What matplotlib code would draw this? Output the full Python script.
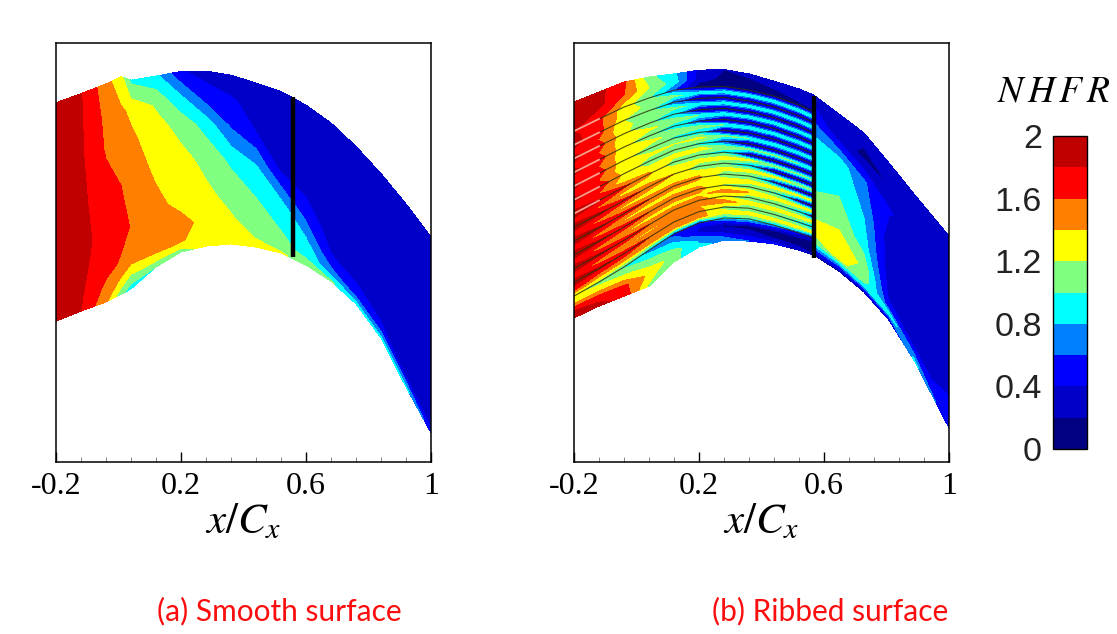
import numpy as np
import matplotlib
matplotlib.use("Agg")
import matplotlib.pyplot as plt

plt.rcParams["mathtext.fontset"] = "stix"

levels = [0, 0.2, 0.4, 0.6, 0.8, 1.0, 1.2, 1.4, 1.6, 1.8, 2.0]
band_colors = ["#000080", "#0000c8", "#0000ff", "#0080ff", "#00ffff",
               "#80ff80", "#ffff00", "#ff8000", "#ff0000", "#c00000"]
bar_ticks = [0, 0.4, 0.8, 1.2, 1.6, 2]
bar_labels = ["0", "0.4", "0.8", "1.2", "1.6", "2"]
x_ticks = [-0.2, 0.2, 0.6, 1.0]
x_labels = ["-0.2", "0.2", "0.6", "1"]
x_minor = [-0.12, -0.04, 0.04, 0.12, 0.28, 0.36, 0.44, 0.52, 0.68, 0.76, 0.84, 0.92]

# smooth surface
smooth_x = [-0.2, -0.12, -0.04, 0.008, 0.04, 0.12, 0.2, 0.28, 0.36, 0.44, 0.52, 0.6, 0.68, 0.76, 0.84, 0.92, 1.0]
smooth_upper = [1.150, 1.179, 1.210, 1.233, 1.222, 1.235, 1.250, 1.251, 1.238, 1.213, 1.186, 1.142, 1.085, 1.010, 0.923, 0.826, 0.720]
smooth_lower = [0.451, 0.483, 0.512, 0.536, 0.554, 0.624, 0.672, 0.691, 0.698, 0.688, 0.669, 0.630, 0.579, 0.506, 0.397, 0.240, 0.093]
smooth_s = [0, 0.06, 0.15, 0.3, 0.5, 0.7, 0.85, 1]
smooth_nhfr = [
    [1.95, 1.80, 1.44, 1.05, 0.90, 1.00, 1.10, 1.25, 1.25, 1.25, 1.22, 1.15, 1.02, 0.88, 0.85, 0.85, 0.50],
    [1.95, 1.82, 1.54, 1.35, 1.15, 1.38, 1.41, 1.34, 1.27, 1.19, 1.07, 0.94, 0.68, 0.52, 0.47, 0.35, 0.30],
    [1.95, 1.84, 1.66, 1.58, 1.53, 1.51, 1.46, 1.34, 1.22, 1.11, 0.99, 0.84, 0.42, 0.38, 0.30, 0.28, 0.28],
    [1.95, 1.855, 1.73, 1.66, 1.59, 1.46, 1.33, 1.24, 1.13, 1.00, 0.87, 0.55, 0.30, 0.28, 0.28, 0.28, 0.28],
    [1.95, 1.845, 1.67, 1.60, 1.53, 1.37, 1.27, 1.14, 0.95, 0.80, 0.39, 0.31, 0.28, 0.28, 0.28, 0.28, 0.28],
    [1.95, 1.83, 1.58, 1.50, 1.44, 1.30, 1.13, 0.91, 0.57, 0.40, 0.33, 0.30, 0.28, 0.28, 0.28, 0.28, 0.28],
    [1.95, 1.82, 1.55, 1.42, 1.37, 1.17, 0.85, 0.50, 0.42, 0.35, 0.30, 0.30, 0.28, 0.28, 0.28, 0.28, 0.28],
    [1.95, 1.81, 1.48, 1.25, 0.95, 0.85, 0.42, 0.32, 0.30, 0.30, 0.30, 0.30, 0.28, 0.28, 0.28, 0.28, 0.28],
]

# ribbed surface, up to the black bar
ribbed_x = [-0.2, -0.12, -0.04, 0.04, 0.12, 0.2, 0.28, 0.36, 0.44, 0.52, 0.568]
ribbed_upper = [1.152, 1.184, 1.216, 1.232, 1.242, 1.254, 1.256, 1.242, 1.219, 1.194, 1.174]
ribbed_lower = [0.461, 0.499, 0.531, 0.563, 0.640, 0.688, 0.710, 0.707, 0.698, 0.678, 0.662]
first_rib_y = [0.531, 0.576, 0.624, 0.678, 0.730, 0.765, 0.781, 0.778, 0.758, 0.733, 0.717]
last_rib_y = [1.059, 1.098, 1.136, 1.165, 1.190, 1.200, 1.202, 1.190, 1.171, 1.142, 1.120]
below_ribs = [
    [1.85, 1.85, 1.75, 1.15, 1.05, 0.85, 0.75, 0.60, 0.50, 0.30, 0.20],
    [1.80, 1.75, 1.65, 1.35, 1.10, 0.75, 0.40, 0.30, 0.18, 0.15, 0.15],
    [1.40, 1.35, 1.25, 1.10, 0.85, 0.35, 0.15, 0.12, 0.12, 0.12, 0.12],
]
above_ribs = [
    [1.90, 1.85, 1.60, 1.20, 0.90, 0.30, 0.15, 0.15, 0.20, 0.30, 0.30],
    [1.90, 1.85, 1.65, 1.05, 0.85, 0.35, 0.20, 0.25, 0.30, 0.30, 0.30],
]
rib_nhfr = [
    [1.20, 1.10, 0.95, 0.70, 0.50, 0.45, 0.80, 0.90, 0.70, 0.50, 0.30],
    [1.90, 1.85, 1.75, 1.60, 1.50, 1.50, 1.10, 1.00, 0.95, 0.85, 0.60],
    [1.90, 1.85, 1.75, 1.60, 1.55, 1.55, 1.20, 1.00, 0.95, 0.80, 0.20],
    [1.90, 1.85, 1.75, 1.60, 1.55, 1.50, 1.15, 1.00, 0.90, 0.25, 0.10],
    [1.90, 1.85, 1.70, 1.60, 1.50, 1.45, 1.00, 0.95, 0.40, 0.10, 0.10],
    [1.90, 1.85, 1.70, 1.55, 1.40, 1.00, 0.95, 0.70, 0.10, 0.10, 0.10],
    [1.90, 1.82, 1.65, 1.45, 1.00, 0.95, 0.90, 0.15, 0.10, 0.10, 0.10],
    [1.85, 1.75, 1.35, 1.05, 1.00, 0.90, 0.50, 0.10, 0.10, 0.10, 0.10],
    [1.85, 1.72, 1.25, 1.05, 0.95, 0.80, 0.10, 0.10, 0.10, 0.10, 0.10],
    [1.85, 1.72, 1.25, 1.00, 0.90, 0.50, 0.10, 0.10, 0.10, 0.10, 0.10],
    [1.85, 1.70, 1.25, 1.00, 0.80, 0.10, 0.10, 0.10, 0.10, 0.10, 0.12],
    [1.85, 1.70, 1.20, 1.00, 0.60, 0.10, 0.08, 0.08, 0.10, 0.10, 0.12],
    [1.80, 1.65, 1.30, 1.00, 0.60, 0.10, 0.10, 0.10, 0.10, 0.12, 0.15],
]
channel_nhfr = [
    [1.70, 1.50, 1.45, 1.45, 1.45, 1.45, 1.30, 1.30, 1.30, 1.30, 1.25],
    [1.70, 1.50, 1.38, 1.35, 1.40, 1.40, 1.50, 1.30, 1.30, 1.30, 1.30],
    [1.72, 1.50, 1.38, 1.30, 1.30, 1.35, 1.50, 1.40, 1.30, 1.30, 1.25],
    [1.72, 1.50, 1.35, 1.28, 1.30, 1.30, 1.30, 1.30, 1.30, 1.25, 1.20],
    [1.72, 1.52, 1.33, 1.28, 1.30, 1.30, 1.30, 1.30, 1.30, 1.15, 1.10],
    [1.72, 1.55, 1.30, 1.28, 1.30, 1.30, 1.30, 1.25, 1.10, 1.05, 1.00],
    [1.72, 1.58, 1.28, 1.25, 1.30, 1.30, 1.10, 1.10, 1.05, 1.00, 0.95],
    [1.72, 1.58, 1.28, 1.25, 1.20, 1.25, 1.05, 1.00, 0.97, 0.95, 0.95],
    [1.72, 1.58, 1.28, 1.30, 1.10, 1.10, 1.00, 0.97, 0.95, 0.95, 0.95],
    [1.75, 1.58, 1.28, 1.25, 1.10, 1.00, 0.97, 0.95, 0.95, 0.95, 0.95],
    [1.75, 1.58, 1.25, 1.10, 1.05, 0.95, 0.95, 0.95, 0.95, 0.95, 0.95],
    [1.85, 1.65, 1.30, 1.15, 1.05, 0.90, 0.95, 0.97, 0.95, 0.95, 0.95],
]

# ribbed surface, after the black bar
after_x = [0.568, 0.648, 0.728, 0.808, 0.888, 1.0]
after_upper = [1.174, 1.114, 1.053, 0.957, 0.858, 0.723]
after_lower = [0.662, 0.611, 0.544, 0.454, 0.326, 0.109]
after_s = [0, 0.04, 0.08, 0.15, 0.3, 0.5, 0.7, 0.85, 1]
after_nhfr = [
    [0.15, 0.15, 0.18, 0.25, 0.85, 0.45],
    [0.60, 0.70, 0.90, 0.90, 0.60, 0.45],
    [1.00, 1.25, 1.10, 0.50, 0.38, 0.42],
    [1.30, 1.35, 1.15, 0.35, 0.30, 0.41],
    [1.10, 1.15, 0.90, 0.30, 0.30, 0.30],
    [0.90, 0.98, 0.78, 0.30, 0.30, 0.28],
    [0.90, 0.90, 0.62, 0.42, 0.30, 0.28],
    [0.55, 0.30, 0.15, 0.20, 0.30, 0.28],
    [0.30, 0.28, 0.28, 0.28, 0.28, 0.28],
]

# black bar: x, bottom, top
smooth_bar = [0.558, 0.656, 1.168]
ribbed_bar = [0.568, 0.653, 1.171]


def passage_mesh(x, lower, upper, s):
    x = np.array(x)
    lower = np.array(lower)
    upper = np.array(upper)
    s = np.array(s)[:, None]
    return np.tile(x, (len(s), 1)), lower + s * (upper - lower)


def style_axes(ax):
    ax.set_xlim(-0.2, 1.0)
    ax.set_ylim(0, 1.341)
    ax.set_yticks([])
    ax.set_xticks(x_ticks)
    ax.set_xticklabels(x_labels, family="Liberation Serif", fontsize=23)
    ax.set_xticks(x_minor, minor=True)
    ax.tick_params(axis="x", which="major", direction="in", length=7.5, width=1.0, pad=7)
    ax.tick_params(axis="x", which="minor", direction="in", length=3.5, width=0.6, color="#777777")
    ax.set_xlabel(r"$x/C_x$", fontsize=31, labelpad=0)
    for spine in ax.spines.values():
        spine.set_linewidth(1.1)


fig = plt.figure(figsize=(11.17, 6.34), dpi=100)
ax1 = fig.add_axes([56 / 1117, 172 / 634, 375 / 1117, 419 / 634])
ax2 = fig.add_axes([574 / 1117, 172 / 634, 375 / 1117, 419 / 634])
cax = fig.add_axes([1053 / 1117, 185 / 634, 34 / 1117, 313 / 634])

X, Y = passage_mesh(smooth_x, smooth_lower, smooth_upper, smooth_s)
cs = ax1.contourf(X, Y, np.array(smooth_nhfr), levels=levels, colors=band_colors)
ax1.plot([smooth_bar[0]] * 2, smooth_bar[1:], color="black", lw=3.2, solid_capstyle="butt")

# rows of the ribbed mesh: below the ribs, rib / channel / rib ..., above the ribs
lower = np.array(ribbed_lower)
upper = np.array(ribbed_upper)
first = np.array(first_rib_y)
last = np.array(last_rib_y)
n_ribs = len(rib_nhfr)
rib_y = [first + (last - first) * i / (n_ribs - 1) for i in range(n_ribs)]
y_rows = [lower, lower + (first - lower) * 0.33, lower + (first - lower) * 0.66]
value_rows = list(below_ribs)
for i in range(n_ribs):
    y_rows.append(rib_y[i])
    value_rows.append(rib_nhfr[i])
    if i < n_ribs - 1:
        y_rows.append((rib_y[i] + rib_y[i + 1]) / 2)
        value_rows.append(channel_nhfr[i])
y_rows += [(last + upper) / 2, upper]
value_rows += above_ribs

X = np.tile(np.array(ribbed_x), (len(y_rows), 1))
ax2.contourf(X, np.array(y_rows), np.array(value_rows), levels=levels, colors=band_colors)
X, Y = passage_mesh(after_x, after_lower, after_upper, after_s)
ax2.contourf(X, Y, np.array(after_nhfr), levels=levels, colors=band_colors)

for i in range(n_ribs):
    ax2.plot(ribbed_x, rib_y[i], color="#30300c", lw=0.8, alpha=0.85)
    if i >= 6:
        ax2.plot(ribbed_x[:2], rib_y[i][:2], color="#ff9c8c", lw=1.3)
ax2.plot([ribbed_bar[0]] * 2, ribbed_bar[1:], color="black", lw=3.2, solid_capstyle="butt")

style_axes(ax1)
style_axes(ax2)

cbar = fig.colorbar(cs, cax=cax, ticks=bar_ticks)
cbar.ax.set_yticklabels(bar_labels, family="Liberation Sans", fontsize=24.5, color="#222222")
cbar.ax.yaxis.set_ticks_position("left")
cbar.ax.tick_params(length=0, pad=8)
cbar.ax.minorticks_off()
cbar.outline.set_linewidth(1.0)

fig.text(1054 / 1117, 1 - 91 / 634, r"$N\,H\,F\,R$", fontsize=27, ha="center", va="center")
fig.text(279 / 1117, 1 - 611 / 634, "(a) Smooth surface", family="Lato", fontsize=21.5, color="#fb0d0d", ha="center", va="center")
fig.text(830 / 1117, 1 - 611 / 634, "(b) Ribbed surface", family="Lato", fontsize=21.5, color="#fb0d0d", ha="center", va="center")

plt.savefig("out.png", dpi=100)
plt.close()
